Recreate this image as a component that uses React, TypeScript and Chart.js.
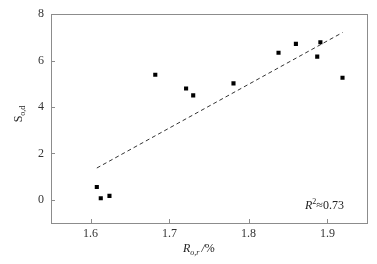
import React, { useEffect, useRef } from "react";
import { Chart, registerables } from "chart.js";

Chart.register(...registerables);

const rValues = [1.608, 1.613, 1.624, 1.682, 1.721, 1.730, 1.781, 1.838, 1.860, 1.887, 1.891, 1.919];
const sValues = [0.55, 0.07, 0.17, 5.39, 4.80, 4.50, 5.02, 6.34, 6.72, 6.17, 6.79, 5.26];
const trendX = [1.608, 1.919];
const trendY = [1.37, 7.21];
const xTicks = [1.6, 1.7, 1.8, 1.9];
const yTicks = [0, 2, 4, 6, 8];
const r2Label = "≈0.73";

const SERIF = "'Liberation Serif', 'Times New Roman', serif";

const framePlugin = {
  id: "frame",
  afterDraw(chart: any) {
    const { ctx, chartArea: a, scales } = chart;
    ctx.save();
    ctx.strokeStyle = "#8c8c8c";
    ctx.lineWidth = 1;
    ctx.strokeRect(Math.round(a.left) + 0.5, Math.round(a.top) + 0.5, Math.round(a.right - a.left), Math.round(a.bottom - a.top));
    ctx.beginPath();
    for (const v of xTicks) {
      const x = Math.round(scales.x.getPixelForValue(v)) + 0.5;
      ctx.moveTo(x, a.bottom);
      ctx.lineTo(x, a.bottom - 4);
    }
    for (const v of yTicks) {
      const y = Math.round(scales.y.getPixelForValue(v)) + 0.5;
      ctx.moveTo(a.left, y);
      ctx.lineTo(a.left + 4, y);
    }
    ctx.stroke();

    ctx.fillStyle = "#222";
    ctx.textBaseline = "alphabetic";
    ctx.save();
    ctx.translate(22, 114);
    ctx.rotate(-Math.PI / 2);
    ctx.font = `12px ${SERIF}`;
    const sw = ctx.measureText("S").width;
    ctx.font = `8px ${SERIF}`;
    const subw = ctx.measureText("o,d").width;
    const total = sw + subw;
    ctx.font = `12px ${SERIF}`;
    ctx.textAlign = "left";
    ctx.fillText("S", -total / 2, 0);
    ctx.font = `8px ${SERIF}`;
    ctx.fillText("o,d", -total / 2 + sw, 3);
    ctx.restore();

    let x = 183;
    const yb = 252;
    ctx.textAlign = "left";
    ctx.font = `italic 12px ${SERIF}`;
    ctx.fillText("R", x, yb);
    x += ctx.measureText("R").width;
    ctx.font = `italic 8px ${SERIF}`;
    ctx.fillText("o,r", x, yb + 3);
    x += ctx.measureText("o,r").width + 2;
    ctx.font = `italic 12px ${SERIF}`;
    ctx.fillText("/", x, yb);
    x += ctx.measureText("/").width;
    ctx.font = `12px ${SERIF}`;
    ctx.fillText("%", x, yb);

    let rx = 305;
    const ry = 209;
    ctx.font = `italic 12px ${SERIF}`;
    ctx.fillText("R", rx, ry);
    rx += ctx.measureText("R").width;
    ctx.font = `8px ${SERIF}`;
    ctx.fillText("2", rx, ry - 5);
    rx += ctx.measureText("2").width;
    ctx.font = `12px ${SERIF}`;
    ctx.fillText(r2Label, rx, ry);
    ctx.restore();
  },
};

export default function App() {
  const ref = useRef<HTMLCanvasElement>(null);
  useEffect(() => {
    const chart = new Chart(ref.current!, {
      type: "scatter",
      data: {
        datasets: [
          {
            type: "line",
            data: trendX.map((x, i) => ({ x, y: trendY[i] })),
            borderColor: "#333",
            borderWidth: 1,
            borderDash: [4, 3],
            pointRadius: 0,
            fill: false,
          } as any,
          {
            data: rValues.map((x, i) => ({ x, y: sValues[i] })),
            pointStyle: "rect",
            pointRadius: 2.9,
            backgroundColor: "#000",
            borderColor: "#000",
            borderWidth: 0,
          },
        ],
      },
      options: {
        animation: false,
        responsive: false,
        maintainAspectRatio: false,
        layout: { padding: { top: 14, right: 10, left: 0, bottom: 0 } },
        plugins: { legend: { display: false }, tooltip: { enabled: false } },
        scales: {
          x: {
            type: "linear",
            min: 1.55,
            max: 1.95,
            afterBuildTicks: (s: any) => {
              s.ticks = xTicks.map((v) => ({ value: v }));
            },
            afterFit: (s: any) => {
              s.height = 41;
            },
            grid: { display: false, drawTicks: false },
            border: { display: false },
            ticks: {
              padding: 4,
              color: "#333",
              font: { family: SERIF, size: 12 },
              callback: (v: any) => Number(v).toFixed(1),
              maxRotation: 0,
            },
          },
          y: {
            min: -1,
            max: 8,
            afterBuildTicks: (s: any) => {
              s.ticks = yTicks.map((v) => ({ value: v }));
            },
            afterFit: (s: any) => {
              s.width = 51;
            },
            grid: { display: false, drawTicks: false },
            border: { display: false },
            ticks: {
              padding: 7,
              color: "#333",
              font: { family: SERIF, size: 12 },
            },
          },
        },
      },
      plugins: [framePlugin],
    });
    return () => chart.destroy();
  }, []);
  return (
    <div style={{ position: "absolute", left: 0, top: 0, width: 377, height: 264, background: "#fff" }}>
      <canvas ref={ref} width={377} height={264} style={{ width: 377, height: 264 }} />
    </div>
  );
}
